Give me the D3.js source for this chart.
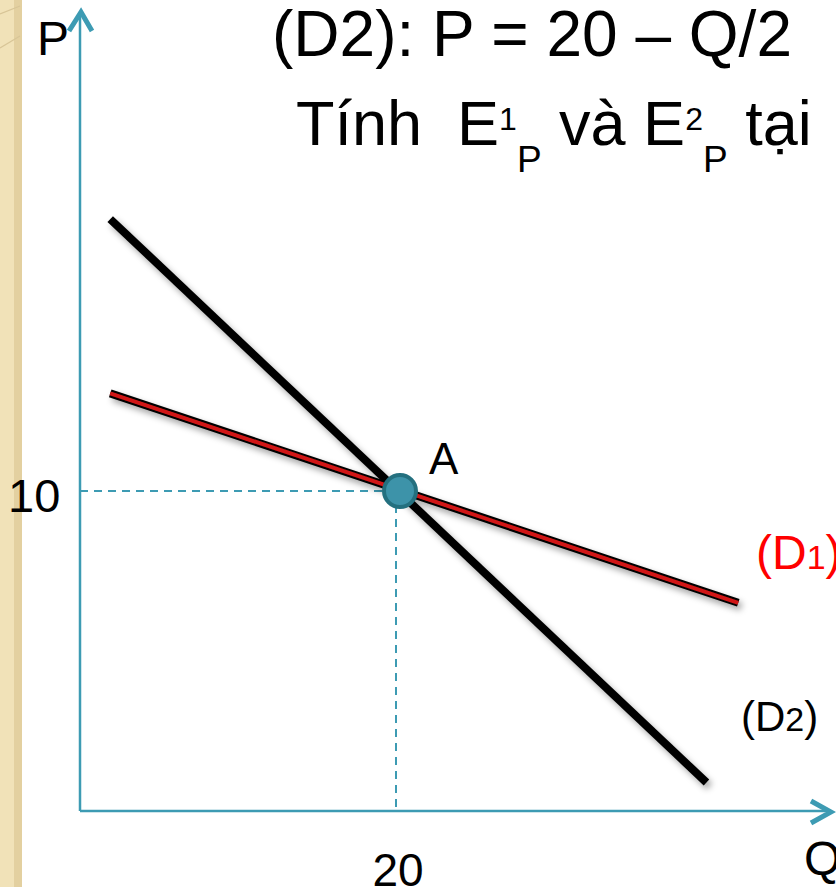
<!DOCTYPE html>
<html>
<head>
<meta charset="utf-8">
<script src="https://cdn.jsdelivr.net/npm/d3@7"></script>
<style>
  html, body { margin: 0; padding: 0; background: #ffffff; }
  svg { display: block; }
  text { font-family: "Liberation Sans", Arial, Helvetica, sans-serif; white-space: pre; }
</style>
</head>
<body>
<svg id="chart" width="836" height="887"></svg>
<script>
// Demand curves through the common point A
const pointA = { name: "A", Q: 20, P: 10 };
// (D2): P = 20 - Q/2, drawn between these quantities
const d2Q = [1.9, 39.4];
const d2P = d2Q.map(q => 20 - q / 2);
// (D1): flatter curve through A
const d1Q = [1.9, 41.4];
const d1P = [13.25, 6.28];
const pTicks = [10];
const qTicks = [20];

const W = 836, H = 887;
const svg = d3.select("#chart");

// plot frame
const axisX0 = 80, axisY0 = 811;
const x = d3.scaleLinear().domain([0, 20]).range([axisX0, 398]);
const y = d3.scaleLinear().domain([0, 10]).range([791.5, 491]);

const teal = "#3d9bb3";

// decorative side strip
svg.append("rect").attr("x", 0).attr("y", 0).attr("width", 22).attr("height", H).attr("fill", "#f1e2b8");
svg.append("rect").attr("x", 14).attr("y", 0).attr("width", 8).attr("height", H).attr("fill", "#e3d0a0");
svg.append("path").attr("d", "M0,14 Q10,10 20,6").attr("stroke", "#d8c597").attr("fill", "none").attr("stroke-width", 1.2);
svg.append("path").attr("d", "M0,48 Q10,42 20,36").attr("stroke", "#d8c597").attr("fill", "none").attr("stroke-width", 1.2);

// shadow filter for the curves
const defs = svg.append("defs");
const f = defs.append("filter").attr("id", "shadow").attr("x", "-10%").attr("y", "-10%").attr("width", "130%").attr("height", "130%");
f.append("feDropShadow").attr("dx", 3).attr("dy", 4).attr("stdDeviation", 3)
  .attr("flood-color", "#000").attr("flood-opacity", 0.35);

// axes
svg.append("line").attr("x1", axisX0).attr("y1", axisY0).attr("x2", axisX0).attr("y2", 14)
  .attr("stroke", teal).attr("stroke-width", 2.5);
svg.append("line").attr("x1", axisX0).attr("y1", axisY0).attr("x2", 830).attr("y2", axisY0)
  .attr("stroke", teal).attr("stroke-width", 2.5);
// open arrowheads
svg.append("path").attr("d", `M${axisX0 - 11},31 L${axisX0 + 1},12 L${axisX0 + 12},31`)
  .attr("stroke", teal).attr("stroke-width", 5).attr("fill", "none");
svg.append("path").attr("d", `M811,801 L831,${axisY0 + 1} L811,823`)
  .attr("stroke", teal).attr("stroke-width", 5).attr("fill", "none");

// axis names
svg.append("text").attr("x", 37).attr("y", 55).attr("font-size", 48).attr("fill", "#000").text("P");
svg.append("text").attr("x", 804).attr("y", 875).attr("font-size", 48).attr("fill", "#000").text("Q");

// guide lines to A
svg.append("line").attr("x1", axisX0).attr("x2", x(pointA.Q)).attr("y1", y(pointA.P)).attr("y2", y(pointA.P))
  .attr("stroke", teal).attr("stroke-width", 2).attr("stroke-dasharray", "8,6");
svg.append("line").attr("x1", x(pointA.Q) - 2).attr("x2", x(pointA.Q) - 2).attr("y1", y(pointA.P)).attr("y2", axisY0)
  .attr("stroke", teal).attr("stroke-width", 2).attr("stroke-dasharray", "8,6");

// tick labels
svg.selectAll("text.ptick").data(pTicks).join("text").attr("class", "ptick")
  .attr("x", 8).attr("y", d => y(d) + 21).attr("font-size", 47).attr("fill", "#000").text(d => d);
svg.selectAll("text.qtick").data(qTicks).join("text").attr("class", "qtick")
  .attr("x", d => x(d)).attr("y", 886).attr("text-anchor", "middle").attr("font-size", 46).attr("fill", "#000").text(d => d);

// curves
const line = d3.line().x(d => x(d[0])).y(d => y(d[1]));
const d2 = d3.zip(d2Q, d2P);
const d1 = d3.zip(d1Q, d1P);

svg.append("path").datum(d2).attr("d", line).attr("stroke", "#000").attr("stroke-width", 8)
  .attr("fill", "none").attr("filter", "url(#shadow)");
const g1 = svg.append("g").attr("filter", "url(#shadow)");
g1.append("path").datum(d1).attr("d", line).attr("stroke", "#000").attr("stroke-width", 8).attr("fill", "none");
g1.append("path").datum(d1).attr("d", line).attr("stroke", "#d11414").attr("stroke-width", 4)
  .attr("fill", "none");

// point A
svg.append("circle").attr("cx", x(pointA.Q) + 2).attr("cy", y(pointA.P)).attr("r", 16)
  .attr("fill", "#3d93a9").attr("stroke", "#24707f").attr("stroke-width", 4);
svg.append("text").attr("x", 429).attr("y", 474).attr("font-size", 44).attr("fill", "#000").text(pointA.name);

// curve labels
const l1 = svg.append("text").attr("x", 756).attr("y", 569).attr("font-size", 48).attr("fill", "#ff0000");
l1.append("tspan").text("(D");
l1.append("tspan").attr("font-size", 34).text("1");
l1.append("tspan").text(")");
const l2 = svg.append("text").attr("x", 741).attr("y", 731).attr("font-size", 42).attr("fill", "#000");
l2.append("tspan").text("(D");
l2.append("tspan").attr("font-size", 34).text("2");
l2.append("tspan").text(")");

// heading
svg.append("text").attr("x", 272).attr("y", 56).attr("font-size", 64).attr("fill", "#000")
  .text("(D2): P = 20 – Q/2");
const t2 = svg.append("text").attr("x", 296).attr("y", 145).attr("font-size", 63).attr("fill", "#000");
t2.append("tspan").text("Tính  E");
t2.append("tspan").attr("font-size", 32).attr("dy", -15).text("1");
t2.append("tspan").attr("font-size", 37).attr("dy", 42).text("P");
t2.append("tspan").attr("dy", -27).text(" và E");
t2.append("tspan").attr("font-size", 32).attr("dy", -15).text("2");
t2.append("tspan").attr("font-size", 37).attr("dy", 42).text("P");
t2.append("tspan").attr("dy", -27).text(" tại");
</script>
</body>
</html>
